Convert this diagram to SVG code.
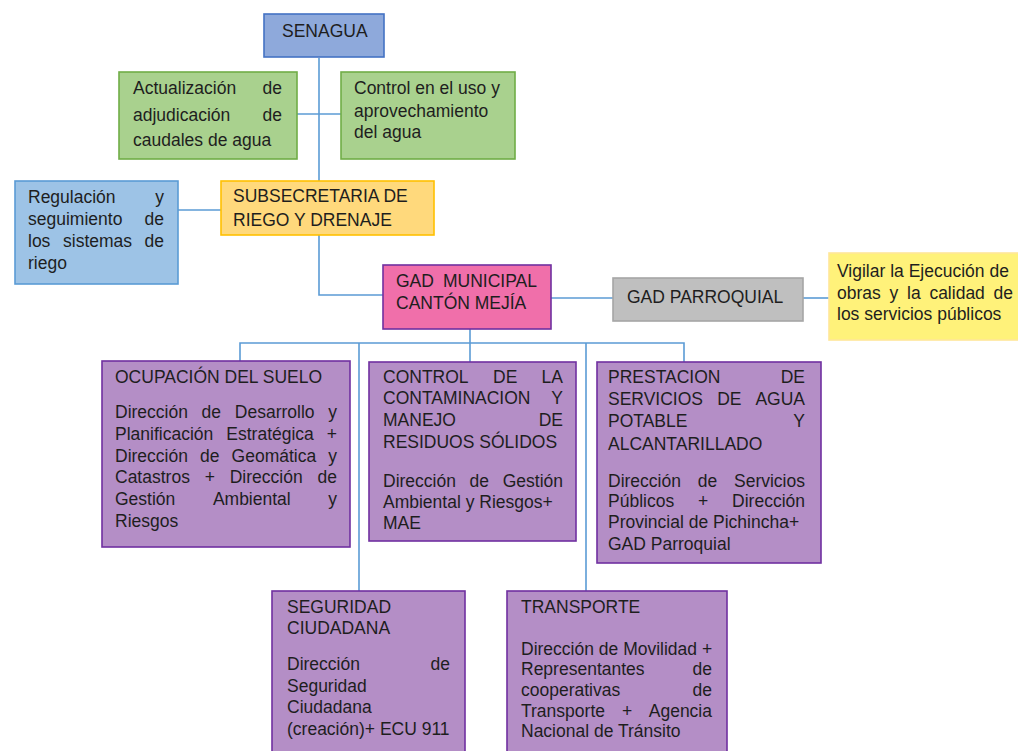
<svg xmlns="http://www.w3.org/2000/svg" width="1018" height="751" viewBox="0 0 1018 751">
<style>
text{font-family:"Liberation Sans",Arial,sans-serif;font-size:17.5px;fill:#1e1e1e}
.e{text-anchor:end}
.b{stroke-width:1.6}
.senagua{fill:#8EA9DB;stroke:#4472C4}
.green{fill:#A9D18E;stroke:#70AD47}
.orange{fill:#FFD97C;stroke:#FFC000}
.blue{fill:#9DC3E6;stroke:#5B9BD5}
.pink{fill:#F06FAA;stroke:#7030A0}
.gray{fill:#BFBFBF;stroke:#A6A6A6}
.yellow{fill:#FFF27A;stroke:#FFE699}
.purple{fill:#B48EC6;stroke:#7030A0}
.conn{fill:none;stroke:#5B9BD5;stroke-width:1.6}
</style>
<rect width="1018" height="751" fill="#ffffff"/>
<g id="connectors" class="conn">
<path d="M319,58 V181"/>
<path d="M297,114 H341"/>
<path d="M178,210 H221"/>
<path d="M319,235 V295 H383"/>
<path d="M551,298 H613"/>
<path d="M803,298 H829"/>
<path d="M470,329 V362"/>
<path d="M240,362 V343 H684 V362"/>
<path d="M359,343 V591"/>
<path d="M586,343 V591"/>
</g>
<g id="senagua">
<rect class="senagua b" x="264" y="14" width="120" height="43"/>
<text x="282" y="37">SENAGUA</text>
</g>
<g id="actualizacion">
<rect class="green b" x="119" y="72" width="178" height="87"/>
<text x="133" y="94">Actualización</text><text class="e" x="282" y="94">de</text>
<text x="133" y="121">adjudicación</text><text class="e" x="282" y="121">de</text>
<text x="133" y="146">caudales de agua</text>
</g>
<g id="control-uso">
<rect class="green b" x="341" y="72" width="174" height="87"/>
<text x="354" y="94">Control en el uso y</text>
<text x="354" y="117">aprovechamiento</text>
<text x="354" y="138">del agua</text>
</g>
<g id="subsecretaria">
<rect class="orange b" x="221" y="181" width="213" height="54"/>
<text x="233" y="202">SUBSECRETARIA DE</text>
<text x="233" y="226">RIEGO Y DRENAJE</text>
</g>
<g id="regulacion">
<rect class="blue b" x="15" y="181" width="163" height="103"/>
<text x="28" y="203">Regulación</text><text class="e" x="164" y="203">y</text>
<text x="28" y="225">seguimiento</text><text class="e" x="164" y="225">de</text>
<text x="28" y="247">los</text><text x="63" y="247">sistemas</text><text class="e" x="164" y="247">de</text>
<text x="28" y="269">riego</text>
</g>
<g id="gad-municipal">
<rect class="pink b" x="383" y="265" width="168" height="64"/>
<text x="396" y="287">GAD</text><text class="e" x="537" y="287">MUNICIPAL</text>
<text x="396" y="309">CANTÓN MEJÍA</text>
</g>
<g id="gad-parroquial">
<rect class="gray b" x="613" y="278" width="190" height="43"/>
<text x="627" y="303">GAD PARROQUIAL</text>
</g>
<g id="vigilar">
<rect class="yellow b" x="829" y="253" width="200" height="87"/>
<text x="837" y="277">Vigilar la Ejecución de</text>
<text x="837" y="299">obras</text><text x="889.5" y="299">y</text><text x="907" y="299">la</text><text x="929.4" y="299">calidad</text><text class="e" x="1013" y="299">de</text>
<text x="837" y="320">los servicios públicos</text>
</g>
<g id="ocupacion">
<rect class="purple b" x="102" y="361" width="248" height="186"/>
<text x="115" y="383">OCUPACIÓN DEL SUELO</text>
<text x="115" y="418">Dirección</text><text x="201.6" y="418">de</text><text x="234.8" y="418">Desarrollo</text><text class="e" x="337" y="418">y</text>
<text x="115" y="440">Planificación</text><text x="226.3" y="440">Estratégica</text><text class="e" x="337" y="440">+</text>
<text x="115" y="462">Dirección</text><text x="200" y="462">de</text><text x="231.6" y="462">Geomática</text><text class="e" x="337" y="462">y</text>
<text x="115" y="483">Catastros</text><text x="204.7" y="483">+</text><text x="229.7" y="483">Dirección</text><text class="e" x="337" y="483">de</text>
<text x="115" y="505">Gestión</text><text x="212.9" y="505">Ambiental</text><text class="e" x="337" y="505">y</text>
<text x="115" y="527">Riesgos</text>
</g>
<g id="control-contaminacion">
<rect class="purple b" x="369" y="362" width="207" height="179"/>
<text x="383" y="383">CONTROL</text><text x="493" y="383">DE</text><text class="e" x="563" y="383">LA</text>
<text x="383" y="404">CONTAMINACION</text><text class="e" x="563" y="404">Y</text>
<text x="383" y="426">MANEJO</text><text class="e" x="563" y="426">DE</text>
<text x="383" y="448">RESIDUOS SÓLIDOS</text>
<text x="383" y="487">Dirección</text><text x="469.6" y="487">de</text><text class="e" x="563" y="487">Gestión</text>
<text x="383" y="508">Ambiental y Riesgos+</text>
<text x="383" y="529">MAE</text>
</g>
<g id="prestacion">
<rect class="purple b" x="597" y="362" width="224" height="201"/>
<text x="608" y="383">PRESTACION</text><text class="e" x="805" y="383">DE</text>
<text x="608" y="405">SERVICIOS</text><text x="717.2" y="405">DE</text><text class="e" x="805" y="405">AGUA</text>
<text x="608" y="427">POTABLE</text><text class="e" x="805" y="427">Y</text>
<text x="608" y="450">ALCANTARILLADO</text>
<text x="608" y="487">Dirección</text><text x="697.7" y="487">de</text><text class="e" x="805" y="487">Servicios</text>
<text x="608" y="507">Públicos</text><text x="698" y="507">+</text><text class="e" x="805" y="507">Dirección</text>
<text x="608" y="528">Provincial de Pichincha+</text>
<text x="608" y="550">GAD Parroquial</text>
</g>
<g id="seguridad">
<rect class="purple b" x="272" y="591" width="193" height="170"/>
<text x="287" y="613">SEGURIDAD</text>
<text x="287" y="634">CIUDADANA</text>
<text x="287" y="670">Dirección</text><text class="e" x="450" y="670">de</text>
<text x="287" y="692">Seguridad</text>
<text x="287" y="713">Ciudadana</text>
<text x="287" y="735">(creación)+ ECU 911</text>
</g>
<g id="transporte">
<rect class="purple b" x="507" y="591" width="220" height="170"/>
<text x="521" y="613">TRANSPORTE</text>
<text x="521" y="655">Dirección de Movilidad +</text>
<text x="521" y="675">Representantes</text><text class="e" x="712" y="675">de</text>
<text x="521" y="696">cooperativas</text><text class="e" x="712" y="696">de</text>
<text x="521" y="717">Transporte</text><text x="622.1" y="717">+</text><text class="e" x="712" y="717">Agencia</text>
<text x="521" y="737">Nacional de Tránsito</text>
</g>
</svg>
